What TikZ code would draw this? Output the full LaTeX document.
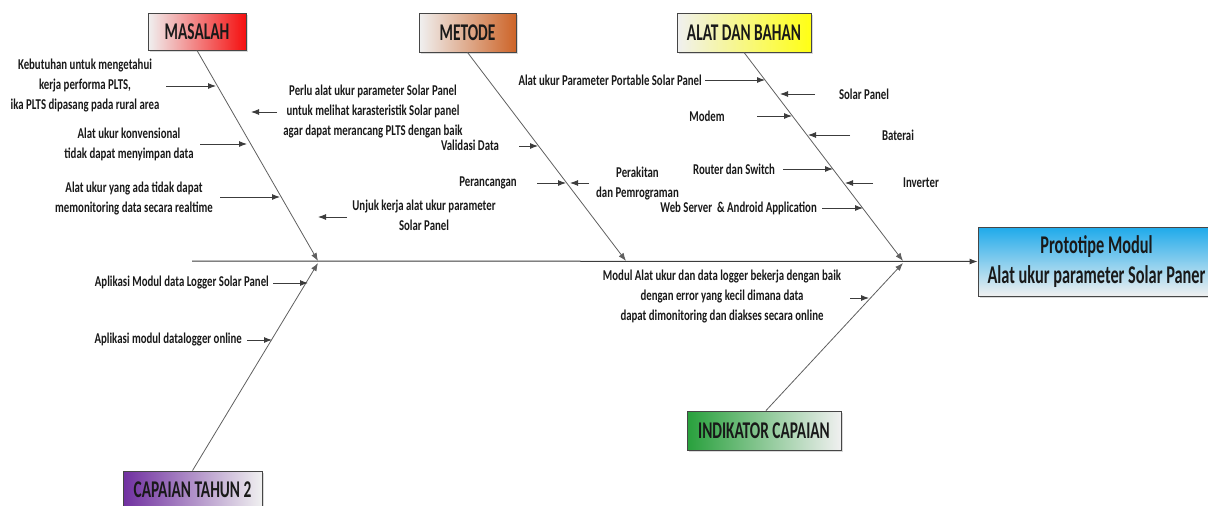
\documentclass[tikz,border=0pt]{standalone}
\usepackage{fontspec}
\setmainfont{Carlito}[FakeStretch=0.72]
\newfontfamily\boxfont{Carlito}[FakeStretch=0.64]
\usetikzlibrary{arrows.meta,shadows}
\definecolor{linegray}{RGB}{95,95,95}
\definecolor{tipgray}{RGB}{60,60,60}
\definecolor{boxborder}{RGB}{70,70,70}
\definecolor{txt}{RGB}{25,25,25}
\definecolor{mred}{RGB}{245,15,15}
\definecolor{morange}{RGB}{205,100,40}
\definecolor{myellow}{RGB}{255,255,20}
\definecolor{mpurple}{RGB}{112,48,160}
\definecolor{mgreen}{RGB}{40,160,60}
\definecolor{mblue}{RGB}{30,170,235}
\definecolor{lightbox}{RGB}{240,240,240}
\tikzset{
  catbox/.style={draw=boxborder, line width=0.9pt, inner sep=0pt, text=txt,
    font=\boxfont\bfseries\fontsize{24}{26}\selectfont,
    drop shadow={opacity=0.3, shadow xshift=2pt, shadow yshift=-2pt}},
  lbl/.style={font=\bfseries\fontsize{15}{20}\selectfont, align=center, inner sep=0pt, text=txt},
  bone/.style={draw=linegray, line width=0.8pt, -{Latex[length=8pt,width=6pt]}, color=linegray},
  arr/.style={draw=tipgray, line width=0.9pt, -{Latex[length=8pt,width=6pt]}},
}
\begin{document}
\begin{tikzpicture}[x=1pt,y=-1pt]
\useasboundingbox (0,0) rectangle (1208,506);
% category boxes
\node[catbox, minimum width=98pt, minimum height=37pt, left color=lightbox, right color=mred] (masalah) at (197,31.5) {MASALAH};
\node[catbox, minimum width=97pt, minimum height=39pt, left color=lightbox, right color=morange] (metode) at (467.5,32.5) {METODE};
\node[catbox, minimum width=134pt, minimum height=39pt, left color=lightbox, right color=myellow] (alat) at (744,32.5) {ALAT DAN BAHAN};
\node[catbox, minimum width=139pt, minimum height=37pt, left color=mpurple, right color=lightbox] (capaian) at (192.5,489.5) {CAPAIAN TAHUN 2};
\node[catbox, minimum width=154pt, minimum height=39pt, left color=mgreen, right color=lightbox] (indikator) at (764,430.5) {INDIKATOR CAPAIAN};
\node[catbox, minimum width=237pt, minimum height=69pt, top color=mblue, bottom color=lightbox, align=center, font=\boxfont\bfseries\fontsize{25.5}{30}\selectfont] (proto) at (1096.5,261.5) {Prototipe Modul\\Alat ukur parameter Solar Paner};
% spine
\coordinate (tail) at (192,261);
\coordinate (j1) at (318,261);
\coordinate (j2) at (626,261);
\coordinate (j3) at (903,261);
\coordinate (j1b) at (318,263);
\coordinate (j3b) at (903,263);
\draw[draw=tipgray, line width=1pt, -{Latex[length=8pt,width=6pt]}] (tail) -- (proto.west);
% bones
\draw[bone] (masalah.south) -- (j1);
\draw[bone] (metode.south) -- (j2);
\draw[bone] (alat.south) -- (j3);
\draw[bone] (capaian.north) -- (j1b);
\draw[bone] ([xshift=2pt]indikator.north) -- (j3b);
% labels
\node[lbl] (t1) at (85,86) {Kebutuhan untuk mengetahui\\kerja performa PLTS,\\ika PLTS dipasang pada rural area};
\node[lbl] (t2) at (373,112) {Perlu alat ukur parameter Solar Panel\\untuk melihat karasteristik Solar panel\\agar dapat merancang PLTS dengan baik};
\node[lbl] (t3) at (129,144.5) {Alat ukur konvensional\\tidak dapat menyimpan data};
\node[lbl] (t4) at (134,198) {Alat ukur yang ada tidak dapat\\memonitoring data secara realtime};
\node[lbl] (t5) at (424,215.5) {Unjuk kerja alat ukur parameter\\Solar Panel};
\node[lbl] (t6) at (470,145) {Validasi Data};
\node[lbl] (t7) at (488,183) {Perancangan};
\node[lbl] (t8) at (637.5,184) {Perakitan\\dan Pemrograman};
\node[lbl, anchor=east] (t9) at (702,80) {Alat ukur Parameter Portable Solar Panel};
\node[lbl] (t10) at (864,94) {Solar Panel};
\node[lbl] (t11) at (707,116) {Modem};
\node[lbl] (t12) at (898,135) {Baterai};
\node[lbl] (t13) at (734,169) {Router dan Switch};
\node[lbl] (t14) at (921,183) {Inverter};
\node[lbl, anchor=east] (t15) at (817,208) {Web Server \,\& Android Application};
\node[lbl, anchor=east] (t16) at (269,283) {Aplikasi Modul data Logger Solar Panel};
\node[lbl, anchor=east] (t17) at (242,340) {Aplikasi modul datalogger online};
\node[lbl] (t18) at (722,297) {Modul Alat ukur dan data logger bekerja dengan baik\\dengan error yang kecil dimana data\\dapat dimonitoring dan diakses secara online};
% arrow coordinates
\foreach \n/\xa/\ya/\xb/\yb in {
  a1/166/86/216/86, a2/277/112/251/112, a3/200/144/247/144, a4/220/197/280/197,
  a5/347/217/318/217, a6/519/146/538/146, a7/537/183/566/183, a8/589/183/570/183,
  a9/705/80/765/80, a10/815/94/780/94, a11/757/116/792/116, a12/850/135/808/135,
  a13/783/169/833/169, a14/873/183/845/183, a15/822/208/863/208,
  a16/273/283/308/283, a17/247/340/272/340, a18/850/298/869/298}{
  \coordinate (\n s) at (\xa,\ya);
  \coordinate (\n e) at (\xb,\yb);
}
\foreach \n in {a1,a2,a3,a4,a5,a6,a7,a8,a9,a10,a11,a12,a13,a14,a15,a16,a17,a18}{
  \draw[arr] (\n s) -- (\n e);
}
\end{tikzpicture}
\end{document}
